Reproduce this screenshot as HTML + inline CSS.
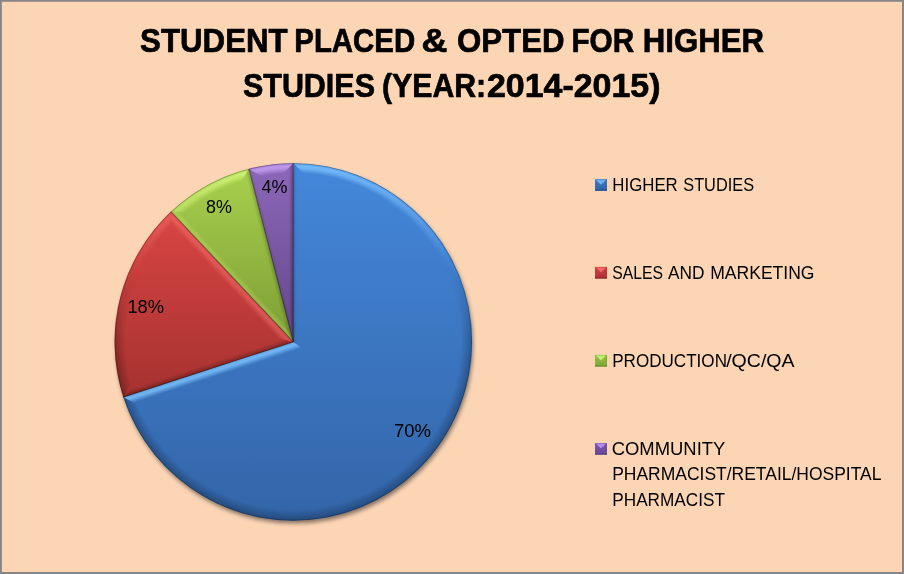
<!DOCTYPE html>
<html lang="en"><head><meta charset="utf-8"><title>Student Placed &amp; Opted For Higher Studies</title>
<style>
html,body{margin:0;padding:0;background:#FCD5B5;}
body{width:904px;height:574px;overflow:hidden;position:relative;font-family:"Liberation Sans",sans-serif;}
svg{display:block;position:absolute;left:0;top:0;}
text{font-family:"Liberation Sans",sans-serif;fill:#000;}
.t{font-weight:bold;font-size:33.6px;stroke:#000;stroke-width:0.7px;stroke-linejoin:round;}
.l{font-size:18.6px;}
.d{font-size:19.0px;}
</style></head><body>
<svg width="904" height="574" viewBox="0 0 904 574">
<defs>
<linearGradient id="g-blue" gradientUnits="userSpaceOnUse" x1="0" y1="163.15" x2="0" y2="520.65"><stop offset="0" stop-color="#4487DA"/><stop offset="1" stop-color="#3365A8"/></linearGradient>
<linearGradient id="g-red" gradientUnits="userSpaceOnUse" x1="0" y1="211.60" x2="0" y2="397.14"><stop offset="0" stop-color="#D84543"/><stop offset="1" stop-color="#A63230"/></linearGradient>
<linearGradient id="g-green" gradientUnits="userSpaceOnUse" x1="0" y1="168.77" x2="0" y2="341.90"><stop offset="0" stop-color="#A8D04D"/><stop offset="1" stop-color="#7D9D35"/></linearGradient>
<linearGradient id="g-purple" gradientUnits="userSpaceOnUse" x1="0" y1="163.15" x2="0" y2="341.90"><stop offset="0" stop-color="#8D68BA"/><stop offset="1" stop-color="#64468A"/></linearGradient>
<linearGradient id="g-hi-blue" gradientUnits="userSpaceOnUse" x1="0" y1="163.15" x2="0" y2="520.65"><stop offset="0.00" stop-color="#7CC4FF" stop-opacity="0.850"/><stop offset="0.05" stop-color="#7CC4FF" stop-opacity="0.708"/><stop offset="0.10" stop-color="#7CC4FF" stop-opacity="0.567"/><stop offset="0.15" stop-color="#7CC4FF" stop-opacity="0.425"/><stop offset="0.20" stop-color="#7CC4FF" stop-opacity="0.283"/><stop offset="0.25" stop-color="#7CC4FF" stop-opacity="0.142"/><stop offset="0.30" stop-color="#7CC4FF" stop-opacity="0.000"/><stop offset="0.35" stop-color="#7CC4FF" stop-opacity="0.000"/></linearGradient>
<linearGradient id="g-hi-red" gradientUnits="userSpaceOnUse" x1="0" y1="163.15" x2="0" y2="520.65"><stop offset="0.00" stop-color="#FF7A75" stop-opacity="0.850"/><stop offset="0.05" stop-color="#FF7A75" stop-opacity="0.708"/><stop offset="0.10" stop-color="#FF7A75" stop-opacity="0.567"/><stop offset="0.15" stop-color="#FF7A75" stop-opacity="0.425"/><stop offset="0.20" stop-color="#FF7A75" stop-opacity="0.283"/><stop offset="0.25" stop-color="#FF7A75" stop-opacity="0.142"/><stop offset="0.30" stop-color="#FF7A75" stop-opacity="0.000"/><stop offset="0.35" stop-color="#FF7A75" stop-opacity="0.000"/></linearGradient>
<linearGradient id="g-hi-green" gradientUnits="userSpaceOnUse" x1="0" y1="163.15" x2="0" y2="520.65"><stop offset="0.00" stop-color="#D6F87E" stop-opacity="0.850"/><stop offset="0.05" stop-color="#D6F87E" stop-opacity="0.708"/><stop offset="0.10" stop-color="#D6F87E" stop-opacity="0.567"/><stop offset="0.15" stop-color="#D6F87E" stop-opacity="0.425"/><stop offset="0.20" stop-color="#D6F87E" stop-opacity="0.283"/><stop offset="0.25" stop-color="#D6F87E" stop-opacity="0.142"/><stop offset="0.30" stop-color="#D6F87E" stop-opacity="0.000"/><stop offset="0.35" stop-color="#D6F87E" stop-opacity="0.000"/></linearGradient>
<linearGradient id="g-hi-purple" gradientUnits="userSpaceOnUse" x1="0" y1="163.15" x2="0" y2="520.65"><stop offset="0.00" stop-color="#C9A4F5" stop-opacity="0.850"/><stop offset="0.05" stop-color="#C9A4F5" stop-opacity="0.708"/><stop offset="0.10" stop-color="#C9A4F5" stop-opacity="0.567"/><stop offset="0.15" stop-color="#C9A4F5" stop-opacity="0.425"/><stop offset="0.20" stop-color="#C9A4F5" stop-opacity="0.283"/><stop offset="0.25" stop-color="#C9A4F5" stop-opacity="0.142"/><stop offset="0.30" stop-color="#C9A4F5" stop-opacity="0.000"/><stop offset="0.35" stop-color="#C9A4F5" stop-opacity="0.000"/></linearGradient>
<linearGradient id="g-lo" gradientUnits="userSpaceOnUse" x1="0" y1="163.15" x2="0" y2="520.65"><stop offset="0.25" stop-color="#000" stop-opacity="0.000"/><stop offset="0.30" stop-color="#000" stop-opacity="0.000"/><stop offset="0.35" stop-color="#000" stop-opacity="0.060"/><stop offset="0.40" stop-color="#000" stop-opacity="0.120"/><stop offset="0.45" stop-color="#000" stop-opacity="0.180"/><stop offset="0.50" stop-color="#000" stop-opacity="0.240"/><stop offset="0.55" stop-color="#000" stop-opacity="0.276"/><stop offset="0.60" stop-color="#000" stop-opacity="0.276"/><stop offset="0.65" stop-color="#000" stop-opacity="0.276"/><stop offset="0.70" stop-color="#000" stop-opacity="0.276"/><stop offset="0.75" stop-color="#000" stop-opacity="0.276"/><stop offset="0.80" stop-color="#000" stop-opacity="0.276"/><stop offset="0.85" stop-color="#000" stop-opacity="0.276"/><stop offset="0.90" stop-color="#000" stop-opacity="0.276"/><stop offset="0.95" stop-color="#000" stop-opacity="0.276"/><stop offset="1.00" stop-color="#000" stop-opacity="0.276"/></linearGradient>
<radialGradient id="m-hi" gradientUnits="userSpaceOnUse" cx="293.30" cy="341.90" r="178.75"><stop offset="0.9441" stop-color="#fff" stop-opacity="0"/><stop offset="0.9720" stop-color="#fff" stop-opacity="0.9"/><stop offset="0.9832" stop-color="#fff" stop-opacity="1"/><stop offset="0.9933" stop-color="#fff" stop-opacity="0.7"/><stop offset="1" stop-color="#fff" stop-opacity="0.2"/></radialGradient>
<radialGradient id="m-lo" gradientUnits="userSpaceOnUse" cx="293.30" cy="341.90" r="178.75"><stop offset="0.9385" stop-color="#fff" stop-opacity="0"/><stop offset="1" stop-color="#fff" stop-opacity="1"/></radialGradient>
<mask id="k-hi" maskUnits="userSpaceOnUse" x="0" y="0" width="904" height="574"><circle cx="293.30" cy="341.90" r="178.75" fill="url(#m-hi)"/></mask>
<mask id="k-lo" maskUnits="userSpaceOnUse" x="0" y="0" width="904" height="574"><circle cx="293.30" cy="341.90" r="178.75" fill="url(#m-lo)"/></mask>
<filter id="blur3" x="-10%" y="-10%" width="120%" height="120%"><feGaussianBlur stdDeviation="2.3"/></filter>
<clipPath id="c-blue"><path d="M293.30,341.90 L293.30,163.15 A178.75,178.75 0 1 1 123.30,397.14 Z"/></clipPath>
<clipPath id="c-red"><path d="M293.30,341.90 L123.30,397.14 A178.75,178.75 0 0 1 170.94,211.60 Z"/></clipPath>
<clipPath id="c-green"><path d="M293.30,341.90 L170.94,211.60 A178.75,178.75 0 0 1 248.85,168.77 Z"/></clipPath>
<clipPath id="c-purple"><path d="M293.30,341.90 L248.85,168.77 A178.75,178.75 0 0 1 293.30,163.15 Z"/></clipPath>
<linearGradient id="b1" gradientUnits="userSpaceOnUse" x1="293.30" y1="341.90" x2="296.80" y2="341.90"><stop offset="0" stop-color="#000" stop-opacity="0.160"/><stop offset="1" stop-color="#000" stop-opacity="0"/></linearGradient>
<linearGradient id="b2" gradientUnits="userSpaceOnUse" x1="293.30" y1="341.90" x2="295.93" y2="349.98"><stop offset="0" stop-color="#7CC4FF" stop-opacity="0.656"/><stop offset="0.4" stop-color="#7CC4FF" stop-opacity="0.820"/><stop offset="1" stop-color="#7CC4FF" stop-opacity="0"/></linearGradient>
<linearGradient id="b3" gradientUnits="userSpaceOnUse" x1="293.30" y1="341.90" x2="291.60" y2="336.67"><stop offset="0" stop-color="#000" stop-opacity="0.280"/><stop offset="1" stop-color="#000" stop-opacity="0"/></linearGradient>
<linearGradient id="b4" gradientUnits="userSpaceOnUse" x1="293.30" y1="341.90" x2="287.10" y2="347.72"><stop offset="0" stop-color="#FF7A75" stop-opacity="0.336"/><stop offset="0.4" stop-color="#FF7A75" stop-opacity="0.420"/><stop offset="1" stop-color="#FF7A75" stop-opacity="0"/></linearGradient>
<linearGradient id="b5" gradientUnits="userSpaceOnUse" x1="293.30" y1="341.90" x2="297.67" y2="337.79"><stop offset="0" stop-color="#D6F87E" stop-opacity="0.176"/><stop offset="0.4" stop-color="#D6F87E" stop-opacity="0.220"/><stop offset="1" stop-color="#D6F87E" stop-opacity="0"/></linearGradient>
<linearGradient id="b6" gradientUnits="userSpaceOnUse" x1="293.30" y1="341.90" x2="288.94" y2="343.02"><stop offset="0" stop-color="#000" stop-opacity="0.200"/><stop offset="1" stop-color="#000" stop-opacity="0"/></linearGradient>
<linearGradient id="b7" gradientUnits="userSpaceOnUse" x1="293.30" y1="341.90" x2="296.69" y2="341.03"><stop offset="0" stop-color="#000" stop-opacity="0.100"/><stop offset="1" stop-color="#000" stop-opacity="0"/></linearGradient>
<linearGradient id="b8" gradientUnits="userSpaceOnUse" x1="293.30" y1="341.90" x2="288.80" y2="341.90"><stop offset="0" stop-color="#000" stop-opacity="0.300"/><stop offset="1" stop-color="#000" stop-opacity="0"/></linearGradient>
<linearGradient id="s-blue" x1="0" y1="0" x2="0" y2="1"><stop offset="0" stop-color="#4079C2"/><stop offset="1" stop-color="#3166AA"/></linearGradient>
<linearGradient id="sh-blue" x1="0" y1="0" x2="0" y2="1"><stop offset="0" stop-color="#74BEFF" stop-opacity="0.75"/><stop offset="1" stop-color="#74BEFF" stop-opacity="1"/></linearGradient>
<linearGradient id="s-red" x1="0" y1="0" x2="0" y2="1"><stop offset="0" stop-color="#CC3E42"/><stop offset="1" stop-color="#B43538"/></linearGradient>
<linearGradient id="sh-red" x1="0" y1="0" x2="0" y2="1"><stop offset="0" stop-color="#FF6E74" stop-opacity="0.75"/><stop offset="1" stop-color="#FF6E74" stop-opacity="1"/></linearGradient>
<linearGradient id="s-green" x1="0" y1="0" x2="0" y2="1"><stop offset="0" stop-color="#93BE42"/><stop offset="1" stop-color="#84AC3A"/></linearGradient>
<linearGradient id="sh-green" x1="0" y1="0" x2="0" y2="1"><stop offset="0" stop-color="#CDF880" stop-opacity="0.75"/><stop offset="1" stop-color="#CDF880" stop-opacity="1"/></linearGradient>
<linearGradient id="s-purple" x1="0" y1="0" x2="0" y2="1"><stop offset="0" stop-color="#7B56AE"/><stop offset="1" stop-color="#6C4A9C"/></linearGradient>
<linearGradient id="sh-purple" x1="0" y1="0" x2="0" y2="1"><stop offset="0" stop-color="#C496FA" stop-opacity="0.75"/><stop offset="1" stop-color="#C496FA" stop-opacity="1"/></linearGradient>
</defs>
<rect x="0" y="0" width="904" height="574" fill="#868686"/>
<rect x="1.9" y="1.8" width="900.1" height="570.2" fill="#FCD5B5"/>
<circle cx="294.60" cy="344.90" r="178.45" fill="#000" fill-opacity="0.47" filter="url(#blur3)"/>
<path d="M293.30,341.90 L293.30,163.15 A178.75,178.75 0 1 1 123.30,397.14 Z" fill="url(#g-blue)"/>
<path d="M293.30,341.90 L123.30,397.14 A178.75,178.75 0 0 1 170.94,211.60 Z" fill="url(#g-red)"/>
<path d="M293.30,341.90 L170.94,211.60 A178.75,178.75 0 0 1 248.85,168.77 Z" fill="url(#g-green)"/>
<path d="M293.30,341.90 L248.85,168.77 A178.75,178.75 0 0 1 293.30,163.15 Z" fill="url(#g-purple)"/>
<g clip-path="url(#c-blue)"><circle cx="293.30" cy="341.90" r="178.75" fill="url(#g-hi-blue)" mask="url(#k-hi)"/></g>
<g clip-path="url(#c-red)"><circle cx="293.30" cy="341.90" r="178.75" fill="url(#g-hi-red)" mask="url(#k-hi)"/></g>
<g clip-path="url(#c-green)"><circle cx="293.30" cy="341.90" r="178.75" fill="url(#g-hi-green)" mask="url(#k-hi)"/></g>
<g clip-path="url(#c-purple)"><circle cx="293.30" cy="341.90" r="178.75" fill="url(#g-hi-purple)" mask="url(#k-hi)"/></g>
<circle cx="293.30" cy="341.90" r="178.75" fill="url(#g-lo)" mask="url(#k-lo)"/>
<g clip-path="url(#c-blue)"><polygon points="293.30,341.90 293.30,163.15 303.30,173.15 303.30,349.17" fill="url(#g-blue)"/><polygon points="293.30,341.90 293.30,163.15 303.30,173.15 303.30,349.17" fill="url(#b1)"/><polygon points="293.30,341.90 123.30,397.14 135.90,403.56 303.30,349.17" fill="url(#g-blue)"/><polygon points="293.30,341.90 123.30,397.14 135.90,403.56 303.30,349.17" fill="url(#b2)"/></g>
<g clip-path="url(#c-red)"><polygon points="293.30,341.90 123.30,397.14 129.72,384.54 275.22,337.26" fill="url(#g-red)"/><polygon points="293.30,341.90 123.30,397.14 129.72,384.54 275.22,337.26" fill="url(#b3)"/><polygon points="293.30,341.90 170.94,211.60 170.49,225.73 275.22,337.26" fill="url(#g-red)"/><polygon points="293.30,341.90 170.94,211.60 170.49,225.73 275.22,337.26" fill="url(#b4)"/></g>
<g clip-path="url(#c-green)"><polygon points="293.30,341.90 170.94,211.60 185.07,212.04 273.93,306.66" fill="url(#g-green)"/><polygon points="293.30,341.90 170.94,211.60 185.07,212.04 273.93,306.66" fill="url(#b5)"/><polygon points="293.30,341.90 248.85,168.77 241.65,180.94 273.93,306.66" fill="url(#g-green)"/><polygon points="293.30,341.90 248.85,168.77 241.65,180.94 273.93,306.66" fill="url(#b6)"/></g>
<g clip-path="url(#c-purple)"><polygon points="293.30,341.90 248.85,168.77 261.02,175.96 283.30,262.74" fill="url(#g-purple)"/><polygon points="293.30,341.90 248.85,168.77 261.02,175.96 283.30,262.74" fill="url(#b7)"/><polygon points="293.30,341.90 293.30,163.15 283.30,173.15 283.30,262.74" fill="url(#g-purple)"/><polygon points="293.30,341.90 293.30,163.15 283.30,173.15 283.30,262.74" fill="url(#b8)"/></g>
<line x1="293.30" y1="341.90" x2="293.30" y2="163.15" stroke="#000" stroke-opacity="0.38" stroke-width="1.1"/>
<line x1="293.30" y1="341.90" x2="123.30" y2="397.14" stroke="#000" stroke-opacity="0.38" stroke-width="1.1"/>
<line x1="293.30" y1="341.90" x2="170.94" y2="211.60" stroke="#000" stroke-opacity="0.38" stroke-width="1.1"/>
<line x1="293.30" y1="341.90" x2="248.85" y2="168.77" stroke="#000" stroke-opacity="0.38" stroke-width="1.1"/>
<circle cx="293.30" cy="341.90" r="178.35" fill="none" stroke="#000" stroke-opacity="0.25" stroke-width="0.9"/>
<text class="t" y="52.35"><tspan x="140.05" textLength="147.64" lengthAdjust="spacingAndGlyphs">STUDENT</tspan> <tspan x="294.28" textLength="120.90" lengthAdjust="spacingAndGlyphs">PLACED</tspan> <tspan x="421.57" textLength="25.90" lengthAdjust="spacingAndGlyphs">&amp;</tspan> <tspan x="457.07" textLength="107.39" lengthAdjust="spacingAndGlyphs">OPTED</tspan> <tspan x="571.46" textLength="62.70" lengthAdjust="spacingAndGlyphs">FOR</tspan> <tspan x="642.87" textLength="121.12" lengthAdjust="spacingAndGlyphs">HIGHER</tspan></text>
<text class="t" y="97.20"><tspan x="242.97" textLength="131.97" lengthAdjust="spacingAndGlyphs">STUDIES</tspan> <tspan x="382.04" textLength="104.11" lengthAdjust="spacingAndGlyphs">(YEAR:</tspan><tspan x="486.97" textLength="173.46" lengthAdjust="spacingAndGlyphs">2014-2015)</tspan></text>
<text class="d" y="436.90"><tspan x="393.95" textLength="37.01" lengthAdjust="spacingAndGlyphs">70%</tspan></text>
<text class="d" y="312.70"><tspan x="127.41" textLength="36.65" lengthAdjust="spacingAndGlyphs">18%</tspan></text>
<text class="d" y="213.00"><tspan x="206.12" textLength="25.92" lengthAdjust="spacingAndGlyphs">8%</tspan></text>
<text class="d" y="192.50"><tspan x="261.49" textLength="25.95" lengthAdjust="spacingAndGlyphs">4%</tspan></text>
<g><rect x="595.0" y="179.15" width="11.9" height="11.65" fill="url(#s-blue)"/><polygon points="595.6,179.65 606.3,179.65 600.95,184.51" fill="url(#sh-blue)"/><rect x="605.8" y="179.15" width="1.1" height="11.65" fill="#244E88" fill-opacity="0.45"/><rect x="595.0" y="189.50" width="11.9" height="1.3" fill="#244E88" fill-opacity="0.8"/><rect x="598.5" y="187.20" width="4.9" height="0.9" fill="#244E88" fill-opacity="0.35"/></g>
<text class="l" y="190.90"><tspan x="612.32" textLength="65.46" lengthAdjust="spacingAndGlyphs">HIGHER</tspan> <tspan x="683.26" textLength="70.79" lengthAdjust="spacingAndGlyphs">STUDIES</tspan></text>
<g><rect x="595.0" y="266.9" width="11.9" height="11.65" fill="url(#s-red)"/><polygon points="595.6,267.4 606.3,267.4 600.95,272.26" fill="url(#sh-red)"/><rect x="605.8" y="266.9" width="1.1" height="11.65" fill="#8A2628" fill-opacity="0.45"/><rect x="595.0" y="277.25" width="11.9" height="1.3" fill="#8A2628" fill-opacity="0.8"/><rect x="598.5" y="274.95" width="4.9" height="0.9" fill="#8A2628" fill-opacity="0.35"/></g>
<text class="l" y="278.50"><tspan x="612.29" textLength="50.74" lengthAdjust="spacingAndGlyphs">SALES</tspan> <tspan x="668.07" textLength="36.56" lengthAdjust="spacingAndGlyphs">AND</tspan> <tspan x="710.26" textLength="104.25" lengthAdjust="spacingAndGlyphs">MARKETING</tspan></text>
<g><rect x="595.0" y="354.9" width="11.9" height="11.65" fill="url(#s-green)"/><polygon points="595.6,355.4 606.3,355.4 600.95,360.26" fill="url(#sh-green)"/><rect x="605.8" y="354.9" width="1.1" height="11.65" fill="#65872A" fill-opacity="0.45"/><rect x="595.0" y="365.25" width="11.9" height="1.3" fill="#65872A" fill-opacity="0.8"/><rect x="598.5" y="362.95" width="4.9" height="0.9" fill="#65872A" fill-opacity="0.35"/></g>
<text class="l" y="367.30"><tspan x="612.20" textLength="114.79" lengthAdjust="spacingAndGlyphs">PRODUCTION</tspan><tspan x="726.20" textLength="68.44" lengthAdjust="spacingAndGlyphs">/QC/QA</tspan></text>
<g><rect x="595.0" y="443.0" width="11.9" height="11.65" fill="url(#s-purple)"/><polygon points="595.6,443.5 606.3,443.5 600.95,448.36" fill="url(#sh-purple)"/><rect x="605.8" y="443.0" width="1.1" height="11.65" fill="#523880" fill-opacity="0.45"/><rect x="595.0" y="453.35" width="11.9" height="1.3" fill="#523880" fill-opacity="0.8"/><rect x="598.5" y="451.05" width="4.9" height="0.9" fill="#523880" fill-opacity="0.35"/></g>
<text class="l" y="454.60"><tspan x="611.76" textLength="113.54" lengthAdjust="spacingAndGlyphs">COMMUNITY</tspan></text>
<text class="l" y="480.00"><tspan x="612.18" textLength="269.29" lengthAdjust="spacingAndGlyphs">PHARMACIST/RETAIL/HOSPITAL</tspan></text>
<text class="l" y="506.20"><tspan x="612.29" textLength="112.60" lengthAdjust="spacingAndGlyphs">PHARMACIST</tspan></text>
</svg></body></html>
